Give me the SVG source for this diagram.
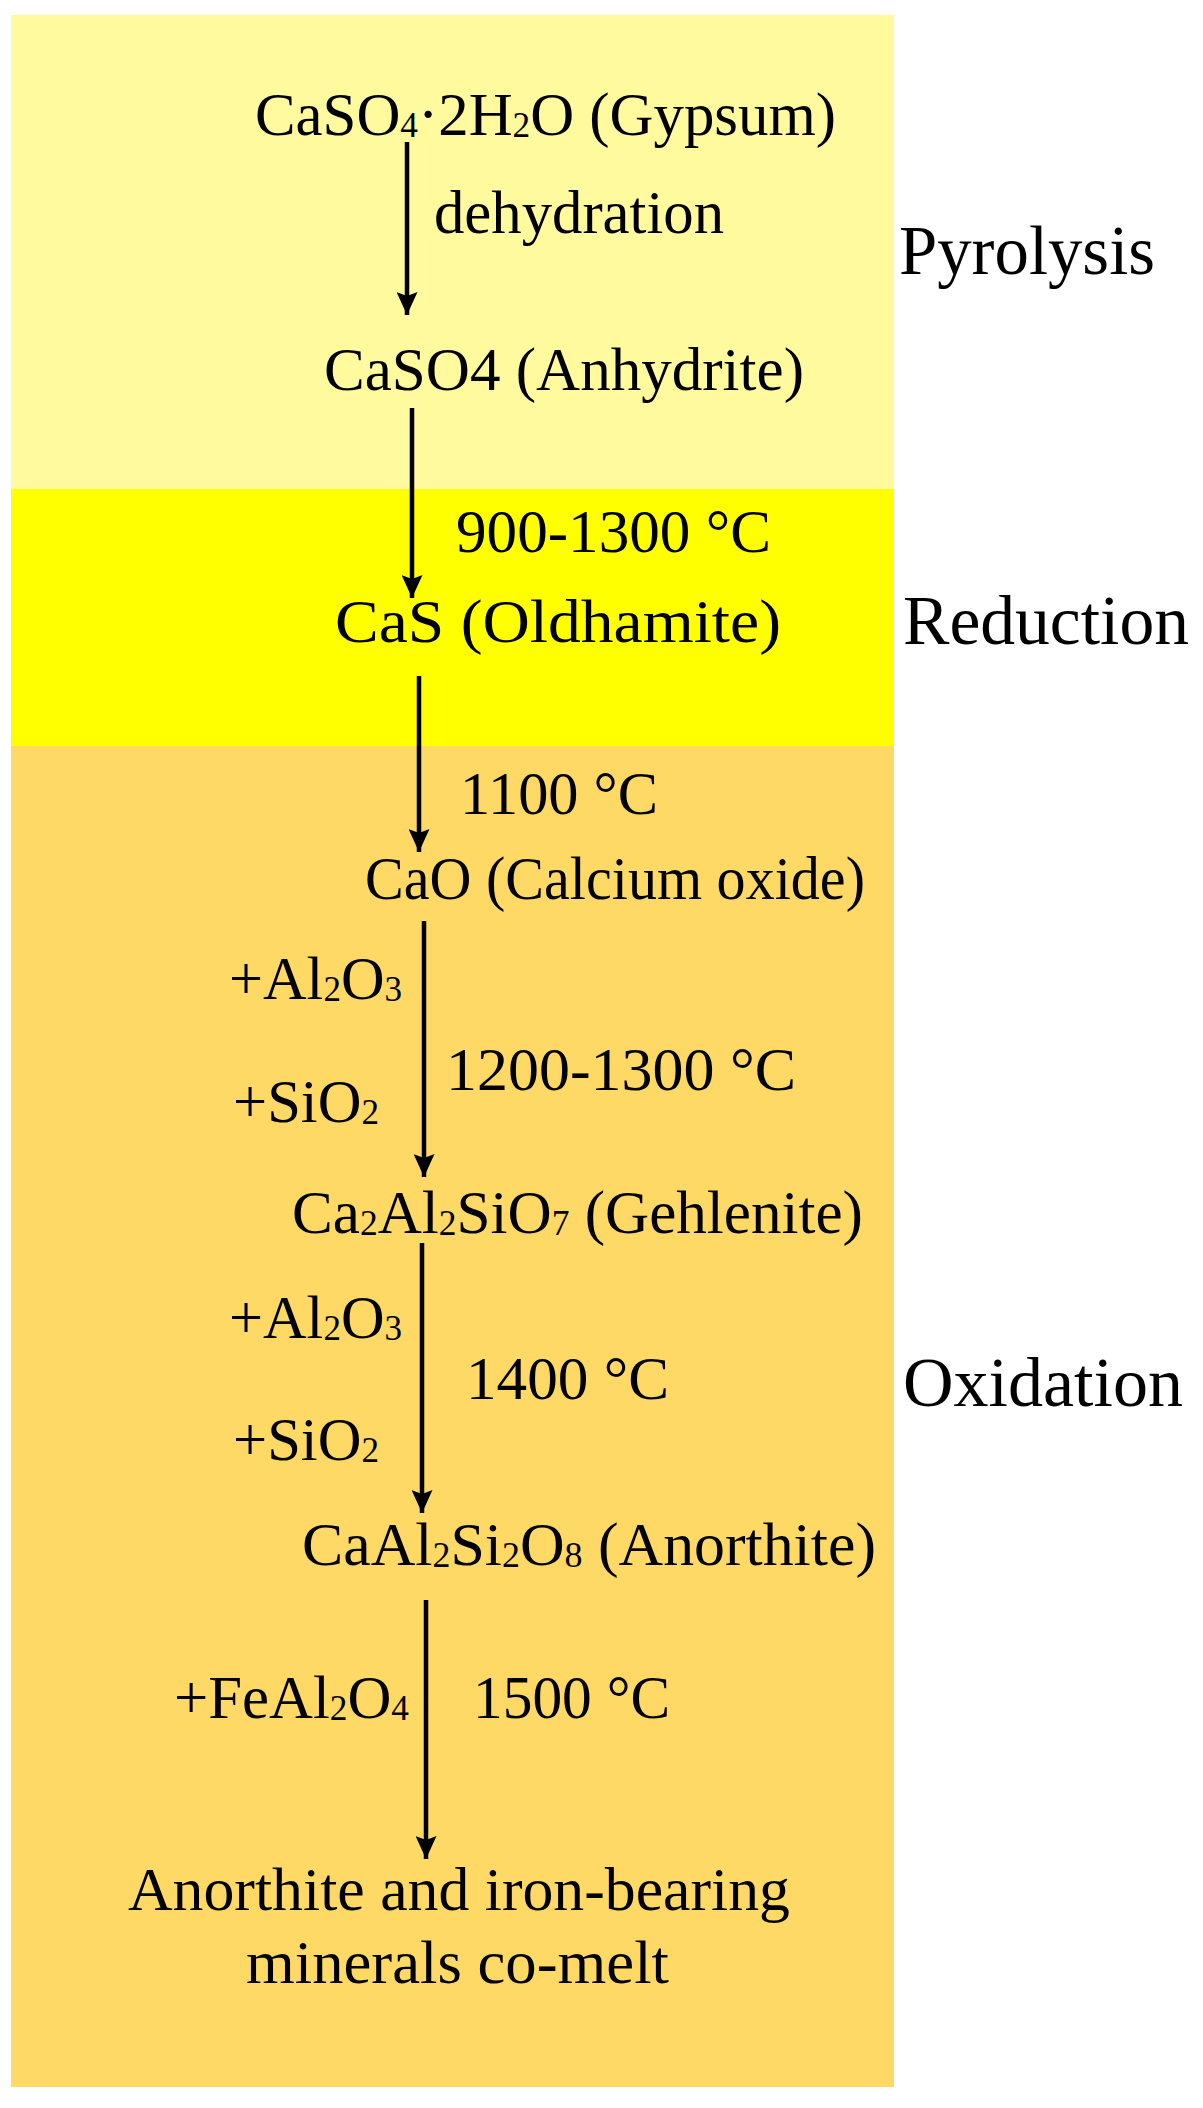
<svg xmlns="http://www.w3.org/2000/svg" width="1203" height="2108" viewBox="0 0 1203 2108">
<style>
text{font-family:"Liberation Serif","Times New Roman",serif;font-size:62px;fill:#000}
.stage{font-size:69px}
.sub{font-size:36px}
.conn line{stroke:#000;stroke-width:4.5;fill:none}
</style>
<defs>
<marker id="ah" markerUnits="userSpaceOnUse" markerWidth="23" markerHeight="21" refX="23" refY="10.5" orient="auto" viewBox="0 0 23 21">
<path d="M0,0 L23,10.5 L0,21 L4,10.5 z" fill="#000"/>
</marker>
</defs>
<rect width="1203" height="2108" fill="#fff"/>
<g id="bands">
<rect x="11" y="15" width="883" height="474" fill="#FFFA9E"/>
<rect x="11" y="489" width="883" height="257" fill="#FFFF00"/>
<rect x="11" y="746" width="883" height="1341" fill="#FFD966"/>
</g>
<g id="stage-labels">
<text class="stage" x="899" y="274" textLength="256" lengthAdjust="spacingAndGlyphs">Pyrolysis</text>
<text class="stage" x="903" y="644" textLength="286" lengthAdjust="spacingAndGlyphs">Reduction</text>
<text class="stage" x="903" y="1406" textLength="280" lengthAdjust="spacingAndGlyphs">Oxidation</text>
</g>
<g class="conn" id="connectors">
<line x1="407" y1="142" x2="407" y2="315" marker-end="url(#ah)"/>
<line x1="412" y1="408" x2="412" y2="598" marker-end="url(#ah)"/>
<line x1="419" y1="676" x2="419" y2="852" marker-end="url(#ah)"/>
<line x1="424" y1="921" x2="424" y2="1177" marker-end="url(#ah)"/>
<line x1="422" y1="1243" x2="422" y2="1513" marker-end="url(#ah)"/>
<line x1="426" y1="1600" x2="426" y2="1859" marker-end="url(#ah)"/>
</g>
<g id="edge-labels">
<text x="434" y="233" textLength="290" lengthAdjust="spacingAndGlyphs">dehydration</text>
<text x="456" y="552" textLength="315" lengthAdjust="spacingAndGlyphs">900-1300 °C</text>
<text x="460" y="814" textLength="198" lengthAdjust="spacingAndGlyphs">1100 °C</text>
<text x="229" y="999" textLength="173" lengthAdjust="spacingAndGlyphs">+Al<tspan class="sub" dy="2">2</tspan><tspan dy="-2">O</tspan><tspan class="sub" dy="2">3</tspan></text>
<text x="233" y="1122" textLength="146" lengthAdjust="spacingAndGlyphs">+SiO<tspan class="sub" dy="2">2</tspan></text>
<text x="446" y="1090" textLength="350" lengthAdjust="spacingAndGlyphs">1200-1300 °C</text>
<text x="229" y="1338" textLength="173" lengthAdjust="spacingAndGlyphs">+Al<tspan class="sub" dy="2">2</tspan><tspan dy="-2">O</tspan><tspan class="sub" dy="2">3</tspan></text>
<text x="233" y="1460" textLength="146" lengthAdjust="spacingAndGlyphs">+SiO<tspan class="sub" dy="2">2</tspan></text>
<text x="466" y="1399" textLength="203" lengthAdjust="spacingAndGlyphs">1400 °C</text>
<text x="174" y="1718" textLength="235" lengthAdjust="spacingAndGlyphs">+FeAl<tspan class="sub" dy="2">2</tspan><tspan dy="-2">O</tspan><tspan class="sub" dy="2">4</tspan></text>
<text x="473" y="1718" textLength="197" lengthAdjust="spacingAndGlyphs">1500 °C</text>
</g>
<g id="node-gypsum">
<text x="255" y="135" textLength="581" lengthAdjust="spacingAndGlyphs">CaSO<tspan class="sub" dy="2">4</tspan><tspan dy="-2">·2H</tspan><tspan class="sub" dy="2">2</tspan><tspan dy="-2">O (Gypsum)</tspan></text>
</g>
<g id="node-anhydrite">
<text x="324" y="390" textLength="480" lengthAdjust="spacingAndGlyphs">CaSO4 (Anhydrite)</text>
</g>
<g id="node-oldhamite">
<text x="335" y="642" textLength="446" lengthAdjust="spacingAndGlyphs">CaS (Oldhamite)</text>
</g>
<g id="node-cao">
<text x="365" y="899" textLength="500" lengthAdjust="spacingAndGlyphs">CaO (Calcium oxide)</text>
</g>
<g id="node-gehlenite">
<text x="292" y="1233" textLength="571" lengthAdjust="spacingAndGlyphs">Ca<tspan class="sub" dy="2">2</tspan><tspan dy="-2">Al</tspan><tspan class="sub" dy="2">2</tspan><tspan dy="-2">SiO</tspan><tspan class="sub" dy="2">7</tspan><tspan dy="-2"> (Gehlenite)</tspan></text>
</g>
<g id="node-anorthite">
<text x="302" y="1565" textLength="574" lengthAdjust="spacingAndGlyphs">CaAl<tspan class="sub" dy="2">2</tspan><tspan dy="-2">Si</tspan><tspan class="sub" dy="2">2</tspan><tspan dy="-2">O</tspan><tspan class="sub" dy="2">8</tspan><tspan dy="-2"> (Anorthite)</tspan></text>
</g>
<g id="node-comelt">
<text x="128" y="1910" textLength="662" lengthAdjust="spacingAndGlyphs">Anorthite and iron-bearing</text>
<text x="246" y="1983" textLength="423" lengthAdjust="spacingAndGlyphs">minerals co-melt</text>
</g>
</svg>
